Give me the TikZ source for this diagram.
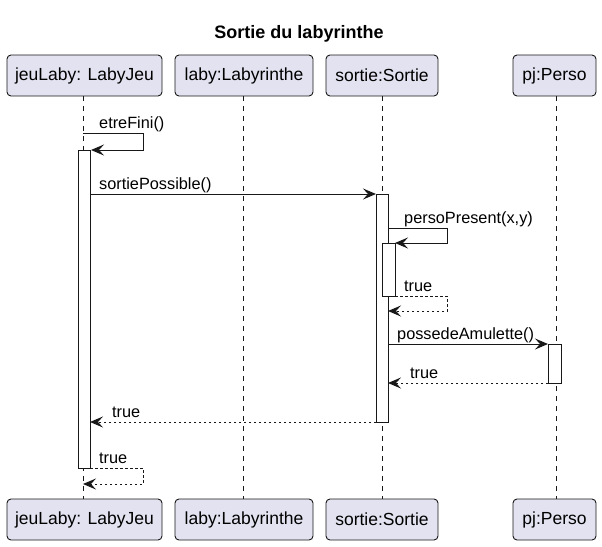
\documentclass[tikz,border=0pt]{standalone}
\usepackage{fontspec}
\setmainfont{Liberation Sans}
\usetikzlibrary{arrows.meta}
\definecolor{partfill}{HTML}{E2E2F0}
\definecolor{ink}{HTML}{181818}
\tikzset{
  part/.style={draw=ink, fill=partfill, rounded corners=4pt, line width=0.9pt, minimum height=41pt, inner sep=0pt, font=\fontsize{17.5}{20}\selectfont, text=black},
  lifeline/.style={draw=ink, line width=0.8pt, dash pattern=on 5pt off 5pt},
  actbox/.style={draw=ink, fill=white, line width=1pt},
  msg/.style={draw=ink, line width=1pt, -{Stealth[length=13pt,width=11pt,inset=5pt]}},
  ret/.style={msg, dash pattern=on 2.5pt off 2.5pt},
  lbl/.style={font=\fontsize{16.3}{19}\selectfont, anchor=base west, inner sep=0pt, text=black}
}
\begin{document}
\begin{tikzpicture}[x=1pt,y=-1pt]
\useasboundingbox (0,0) rectangle (602,546);
% title
\node[font=\bfseries\fontsize{18}{21}\selectfont, anchor=base] (title) at (299,38) {Sortie du labyrinthe};
% participants top
\node[part, minimum width=155pt] (jt) at (84.5,75.5) {jeuLaby: LabyJeu};
\node[part, minimum width=138pt] (lt) at (244,75.5) {laby:Labyrinthe};
\node[part, minimum width=112pt] (st) at (382,75.5) {sortie:Sortie};
\node[part, minimum width=83pt] (pt) at (554.5,75.5) {pj:Perso};
% participants bottom
\node[part, minimum width=155pt] (jb) at (84.5,519.5) {jeuLaby: LabyJeu};
\node[part, minimum width=138pt] (lb) at (244,519.5) {laby:Labyrinthe};
\node[part, minimum width=112pt] (sb) at (382,519.5) {sortie:Sortie};
\node[part, minimum width=83pt] (pb) at (554.5,519.5) {pj:Perso};
% lifelines
\draw[lifeline] (83,96) -- (83,499);
\draw[lifeline] (243,96) -- (243,499);
\draw[lifeline] (382,96) -- (382,499);
\draw[lifeline] (556,96) -- (556,499);
% activations
\draw[actbox] (78,150) rectangle (90,468);
\draw[actbox] (376,194) rectangle (388,422);
\draw[actbox] (382,243) rectangle (395,296);
\draw[actbox] (548,344) rectangle (561,383);
% coordinates
\coordinate (e1) at (83,133); \coordinate (e2) at (143,133); \coordinate (e3) at (143,150); \coordinate (e4) at (91,150);
\coordinate (s1) at (90,194); \coordinate (s2) at (376,194);
\coordinate (p1) at (388,228); \coordinate (p2) at (447,228); \coordinate (p3) at (447,243); \coordinate (p4) at (395,243);
\coordinate (t1) at (395,296); \coordinate (t2) at (447,296); \coordinate (t3) at (447,311); \coordinate (t4) at (388,311);
\coordinate (a1) at (388,344); \coordinate (a2) at (548,344);
\coordinate (r1) at (548,383); \coordinate (r2) at (388,383);
\coordinate (q1) at (376,422); \coordinate (q2) at (90,422);
\coordinate (f1) at (90,468); \coordinate (f2) at (143,468); \coordinate (f3) at (143,484); \coordinate (f4) at (83,484);
% messages
\draw[msg] (e1) -- (e2) -- (e3) -- (e4);
\node[lbl] (le) at (99,128) {etreFini()};
\draw[msg] (s1) -- (s2);
\node[lbl] (ls) at (99,189) {sortiePossible()};
\draw[msg] (p1) -- (p2) -- (p3) -- (p4);
\node[lbl] (lp) at (404,223) {persoPresent(x,y)};
\draw[ret] (t1) -- (t2) -- (t3) -- (t4);
\node[lbl] (lt1) at (404,291) {true};
\draw[msg] (a1) -- (a2);
\node[lbl] (la) at (397,339) {possedeAmulette()};
\draw[ret] (r1) -- (r2);
\node[lbl] (lr) at (410,378) {true};
\draw[ret] (q1) -- (q2);
\node[lbl] (lq) at (112,417) {true};
\draw[ret] (f1) -- (f2) -- (f3) -- (f4);
\node[lbl] (lf) at (99,463) {true};
\end{tikzpicture}
\end{document}
